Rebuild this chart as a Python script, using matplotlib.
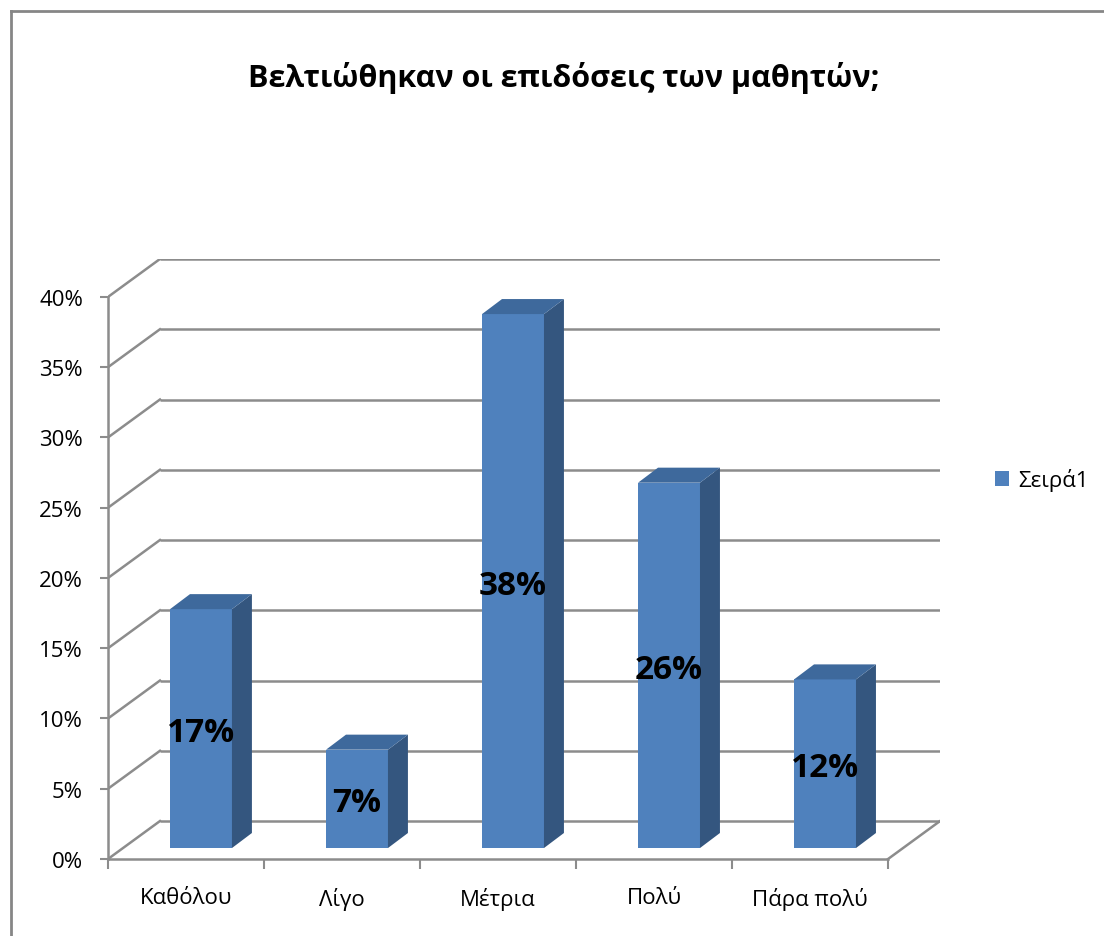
"""
Pseudo-3D column chart: Βελτιώθηκαν οι επιδόσεις των μαθητών;
"""

import matplotlib

matplotlib.use("Agg")
import matplotlib.pyplot as plt
from matplotlib.lines import Line2D
from matplotlib.patches import Patch, Polygon

plt.rcParams["font.family"] = ["Open Sans", "Noto Sans", "DejaVu Sans"]

categories = ["Καθόλου", "Λίγο", "Μέτρια", "Πολύ", "Πάρα πολύ"]
values = [17, 7, 38, 26, 12]
y_ticks = [0, 5, 10, 15, 20, 25, 30, 35, 40]
title = "Βελτιώθηκαν οι επιδόσεις των μαθητών;"
series_name = "Σειρά1"

FRONT = "#4F81BD"
SIDE = "#34567F"
TOP = "#3E699C"
GRID = "#8C8C8C"

# depth offsets in data units (x in categories, y in percent)
WALL_DX, WALL_DY = 0.333, 2.7
BAR_DX, BAR_DY = 0.096, 0.78
DEPTH_DX, DEPTH_DY = 0.128, 1.07
BAR_W = 0.397

fig = plt.figure(figsize=(11.04, 9.37), dpi=100)
ax = fig.add_axes([108 / 1104, 77 / 937, 832 / 1104, 600 / 937])
n = len(categories)
ax.set_xlim(-0.5, n - 0.5 + WALL_DX)
ax.set_ylim(0, y_ticks[-1] + WALL_DY)

# back wall gridlines and left wall diagonals
for v in y_ticks:
    ax.plot([-0.5 + WALL_DX, n - 0.5 + WALL_DX], [v + WALL_DY, v + WALL_DY],
            color=GRID, lw=1.8, zorder=1, solid_capstyle="butt")
    ax.plot([-0.5, -0.5 + WALL_DX], [v, v + WALL_DY], color=GRID, lw=1.8, zorder=1)
# floor right edge
ax.plot([n - 0.5, n - 0.5 + WALL_DX], [0, WALL_DY], color=GRID, lw=1.8, zorder=1)

# bars: front face + side + top
xs = [i + BAR_DX for i in range(n)]
ax.bar(xs, values, width=BAR_W, bottom=BAR_DY, color=FRONT, zorder=3)
for x, v in zip(xs, values):
    r = x + BAR_W / 2
    l = x - BAR_W / 2
    top = BAR_DY + v
    ax.add_patch(Polygon([(r, BAR_DY), (r + DEPTH_DX, BAR_DY + DEPTH_DY),
                          (r + DEPTH_DX, top + DEPTH_DY), (r, top)],
                         closed=True, facecolor=SIDE, edgecolor="none", zorder=3))
    ax.add_patch(Polygon([(l, top), (r, top), (r + DEPTH_DX, top + DEPTH_DY),
                          (l + DEPTH_DX, top + DEPTH_DY)],
                         closed=True, facecolor=TOP, edgecolor="none", zorder=3))
    ax.text(x, BAR_DY + v / 2, f"{v}%", ha="center", va="center_baseline",
            fontsize=24, fontweight="bold", color="black", zorder=5)

# axes styling
for side in ["top", "right"]:
    ax.spines[side].set_visible(False)
ax.spines["left"].set_bounds(0, y_ticks[-1])
ax.spines["bottom"].set_bounds(-0.5, n - 0.5)
for side in ["left", "bottom"]:
    ax.spines[side].set_color(GRID)
    ax.spines[side].set_linewidth(1.8)

ax.set_yticks(y_ticks)
ax.set_yticklabels([f"{v}%" for v in y_ticks])
ax.tick_params(axis="y", direction="out", length=6, width=1.5, color=GRID,
               labelsize=16, pad=12)

ax.set_xticks(range(n))
ax.set_xticklabels(categories)
ax.set_xticks([i - 0.5 for i in range(n + 1)], minor=True)
ax.tick_params(axis="x", which="major", length=0, labelsize=16, pad=20)
ax.tick_params(axis="x", which="minor", direction="out", length=7, width=1.5,
               color=GRID)

fig.text(0.511, 1 - 78 / 937, title, ha="center", va="center",
         fontsize=22, fontweight="bold")

fig.legend(handles=[Patch(facecolor=FRONT, label=series_name)],
           loc="center left", bbox_to_anchor=(975 / 1104, 1 - 481 / 937),
           frameon=False, fontsize=16, handlelength=0.65, handleheight=0.65,
           handletextpad=0.4)

# chart area border (left and top edges visible)
fig.add_artist(Line2D([11 / 1104, 11 / 1104], [0, 1 - 12 / 937],
                      transform=fig.transFigure, color="#868686", lw=2))
fig.add_artist(Line2D([11 / 1104, 1], [1 - 12 / 937, 1 - 12 / 937],
                      transform=fig.transFigure, color="#868686", lw=2))

fig.savefig("out.png", dpi=100)
